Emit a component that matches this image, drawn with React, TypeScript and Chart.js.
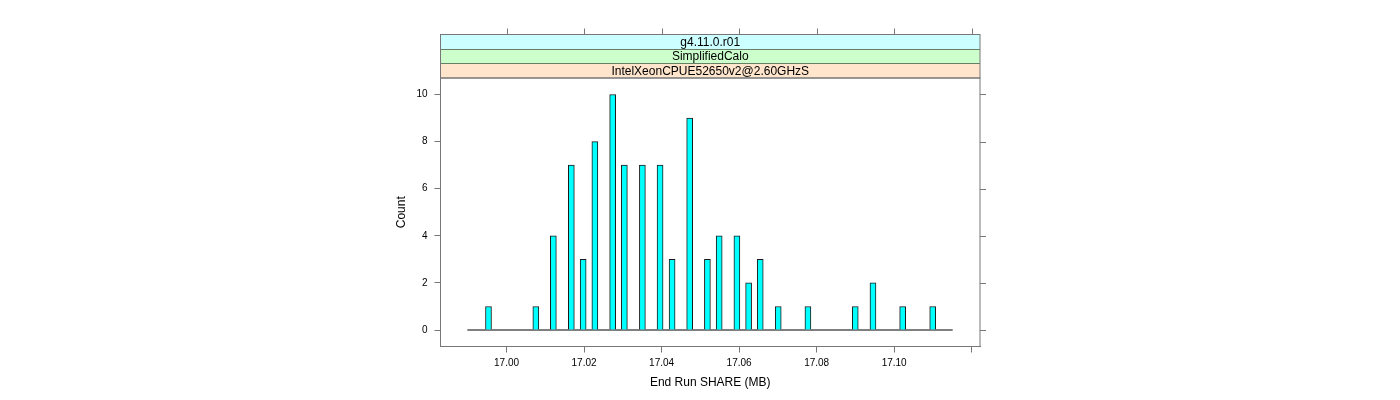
import React, { useEffect, useRef } from "react";
import { Chart, registerables } from "chart.js";

Chart.register(...registerables);

// ---- data ----
const shareValues = [
  16.99535, 17.00756, 17.01208, 17.01672, 17.01977, 17.02279, 17.02738, 17.0304,
  17.03505, 17.03961, 17.04271, 17.04725, 17.05182, 17.05486, 17.05943, 17.06245,
  17.06545, 17.07009, 17.07775, 17.08996, 17.09453, 17.10219, 17.10994,
];
const counts = [1, 1, 4, 7, 3, 8, 10, 7, 7, 7, 3, 9, 3, 4, 4, 2, 3, 1, 1, 1, 2, 1, 1];
const baselineRange = [16.9899, 17.1151];
const xTicks = [17.0, 17.02, 17.04, 17.06, 17.08, 17.1, 17.12];
const xTickLabels = ["17.00", "17.02", "17.04", "17.06", "17.08", "17.10", ""];
const yTicks = [0, 2, 4, 6, 8, 10];
const yTickLabels = ["0", "2", "4", "6", "8", "10"];
const xLimits = [16.98297, 17.12214];
const yLimits = [-0.7, 10.7];
const stripLabels = ["IntelXeonCPUE52650v2@2.60GHzS", "SimplifiedCalo", "g4.11.0.r01"];
const stripColors = ["#ffe5cc", "#ccffcc", "#ccffff"];
const xTitle = "End Run SHARE (MB)";
const yTitle = "Count";

const FONT = "'Liberation Sans', Arial, Helvetica, sans-serif";
const AXIS_COL = "#777";

const panelPlugin = {
  id: "latticePanel",
  afterDraw(chart: any) {
    const { ctx, chartArea: a, scales } = chart;
    const sx = scales.x;
    const sy = scales.y;
    const stripH = 14.5;
    const stripTop = a.top - stripH * stripLabels.length;
    ctx.save();
    // strips
    stripLabels.forEach((lab, i) => {
      const yb = a.top - stripH * i;
      const yt = yb - stripH;
      ctx.fillStyle = stripColors[i];
      ctx.fillRect(a.left, yt, a.right - a.left, stripH);
      ctx.strokeStyle = "#000";
      ctx.lineWidth = 1;
      ctx.beginPath();
      ctx.moveTo(a.left, yt);
      ctx.lineTo(a.right, yt);
      ctx.stroke();
      ctx.fillStyle = "#000";
      ctx.font = `12px ${FONT}`;
      ctx.textAlign = "center";
      ctx.textBaseline = "middle";
      ctx.fillText(lab, (a.left + a.right) / 2, (yt + yb) / 2 + 0.5);
    });
    // outer boxes
    ctx.strokeStyle = AXIS_COL;
    ctx.lineWidth = 1;
    ctx.strokeRect(a.left, a.top, a.right - a.left, a.bottom - a.top);
    ctx.strokeRect(a.left, stripTop, a.right - a.left, a.top - stripTop);
    // top ticks
    ctx.beginPath();
    xTicks.forEach((v) => {
      const px = Math.round(sx.getPixelForValue(v)) + 0.5;
      ctx.moveTo(px, stripTop);
      ctx.lineTo(px, stripTop - 6);
    });
    // right ticks
    yTicks.forEach((v) => {
      const py = Math.round(sy.getPixelForValue(v)) + 0.5;
      ctx.moveTo(a.right, py);
      ctx.lineTo(a.right + 6, py);
    });
    ctx.stroke();
    ctx.restore();
  },
};

export default function App() {
  const ref = useRef<HTMLCanvasElement | null>(null);
  useEffect(() => {
    document.body.style.margin = "0";
    Chart.defaults.font.family = FONT;
    Chart.defaults.color = "#000";
    const canvas = ref.current!;
    const chart = new Chart(canvas, {
      type: "bar",
      data: {
        datasets: [
          {
            type: "line",
            data: baselineRange.map((x) => ({ x, y: 0 })),
            borderColor: "#000",
            borderWidth: 1,
            pointRadius: 0,
            order: 2,
          } as any,
          {
            type: "bar",
            data: shareValues.map((x, i) => ({ x, y: counts[i] })),
            backgroundColor: "#00ffff",
            borderColor: "#1a1a1a",
            borderWidth: 1,
            barThickness: 6,
            order: 1,
          } as any,
        ],
      },
      options: {
        responsive: false,
        animation: false,
        layout: { padding: { left: 390.5, right: 420, top: 78, bottom: 6.5 } },
        plugins: { legend: { display: false }, tooltip: { enabled: false } },
        scales: {
          x: {
            type: "linear",
            offset: false,
            min: xLimits[0],
            max: xLimits[1],
            afterBuildTicks: (s: any) => {
              s.ticks = xTicks.map((value) => ({ value }));
            },
            afterFit: (s: any) => {
              s.height = 47;
            },
            ticks: {
              font: { size: 10 },
              padding: 5,
              maxRotation: 0,
              autoSkip: false,
              callback: (_v: any, i: number) => xTickLabels[i],
            },
            grid: {
              offset: false,
              drawOnChartArea: false,
              drawTicks: true,
              tickLength: 6,
              color: AXIS_COL,
            },
            border: { display: true, color: AXIS_COL },
            title: {
              display: true,
              text: xTitle,
              font: { size: 12 },
              color: "#000",
              padding: { top: 4, bottom: 4 },
            },
          },
          y: {
            type: "linear",
            min: yLimits[0],
            max: yLimits[1],
            afterBuildTicks: (s: any) => {
              s.ticks = yTicks.map((value) => ({ value }));
            },
            afterFit: (s: any) => {
              s.width = 50;
            },
            ticks: {
              font: { size: 10 },
              padding: 7,
              autoSkip: false,
              callback: (_v: any, i: number) => yTickLabels[i],
            },
            grid: {
              drawOnChartArea: false,
              drawTicks: true,
              tickLength: 6,
              color: AXIS_COL,
            },
            border: { display: true, color: AXIS_COL },
            title: {
              display: true,
              text: yTitle,
              font: { size: 12 },
              color: "#000",
              padding: { top: 4, bottom: 4 },
            },
          },
        },
      },
      plugins: [panelPlugin],
    });
    return () => chart.destroy();
  }, []);
  return <canvas ref={ref} width={1400} height={400} style={{ display: "block" }} />;
}
